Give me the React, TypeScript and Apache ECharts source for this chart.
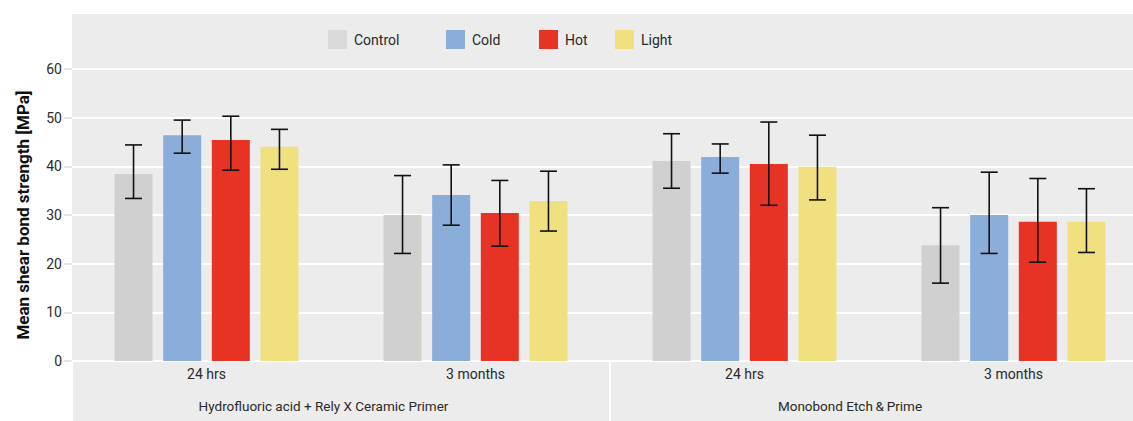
import React, { useEffect, useRef } from "react";
import * as echarts from "echarts";

const categories = ["24 hrs", "3 months", "24 hrs", "3 months"];
const groupLabels = ["Hydrofluoric acid + Rely X Ceramic Primer", "Monobond Etch\u2009&\u2009Prime"];
const seriesNames = ["Control", "Cold", "Hot", "Light"];
const seriesColors = ["#d0d0d0", "#8badda", "#e73324", "#f0e07f"];
const legendColors = ["#dadada", "#8badda", "#e73324", "#f0e07f"];

const controlMean = [38.4, 30.0, 41.1, 23.8];
const coldMean = [46.4, 34.1, 41.9, 30.0];
const hotMean = [45.4, 30.4, 40.5, 28.6];
const lightMean = [44.0, 32.9, 39.9, 28.6];

const controlLow = [33.4, 22.1, 35.5, 16.0];
const controlHigh = [44.4, 38.1, 46.7, 31.5];
const coldLow = [42.7, 27.9, 38.6, 22.1];
const coldHigh = [49.5, 40.3, 44.6, 38.8];
const hotLow = [39.2, 23.6, 32.0, 20.3];
const hotHigh = [50.3, 37.1, 49.1, 37.5];
const lightLow = [39.4, 26.7, 33.1, 22.3];
const lightHigh = [47.6, 39.0, 46.4, 35.4];

const yTicks = [0, 10, 20, 30, 40, 50, 60];

const FONT = "Roboto, sans-serif";
const BAR_WIDTH = 38;
const BAR_GAP = 0.28;

export default function App() {
  const ref = useRef<HTMLDivElement>(null);
  useEffect(() => {
    document.body.style.margin = "0";
    if (!ref.current) return;
    const chart = echarts.init(ref.current, undefined, { renderer: "svg" });
    const means = [controlMean, coldMean, hotMean, lightMean];
    const lows = [controlLow, coldLow, hotLow, lightLow];
    const highs = [controlHigh, coldHigh, hotHigh, lightHigh];
    const errData: number[][] = [];
    seriesNames.forEach((_, s) => {
      categories.forEach((_c, i) => {
        errData.push([i, s, lows[s][i], highs[s][i]]);
      });
    });
    const legendLefts = [328, 446, 539, 615];
    const option: any = {
      animation: false,
      textStyle: { fontFamily: FONT },
      graphic: [
        {
          type: "rect",
          z: -10,
          shape: { x: 72, y: 14, width: 1061, height: 407 },
          style: { fill: "#ececec" },
          silent: true,
        },
        ...groupLabels.map((t, i) => ({
          type: "text",
          x: i === 0 ? 323.5 : 850,
          y: 406,
          style: {
            text: t,
            fontSize: 13.5,
            fontFamily: FONT,
            fill: "#2a2a2a",
            align: "center",
            verticalAlign: "middle",
          },
        })),
      ],
      legend: seriesNames.map((n, i) => ({
        data: [{ name: n, itemStyle: { color: legendColors[i] } }],
        left: legendLefts[i],
        top: 30,
        icon: "rect",
        itemWidth: 19,
        itemHeight: 19,
        itemGap: 0,
        padding: 0,
        textStyle: { fontSize: 14, color: "#2a2a2a", fontFamily: FONT, padding: [0, 0, 0, 2] },
        selectedMode: false,
      })),
      grid: { left: 72, width: 1076, top: 69, height: 292, containLabel: false, outerBoundsMode: "none" },
      xAxis: [
        {
          type: "category",
          data: categories,
          axisLine: { show: false },
          axisTick: { show: false },
          axisLabel: { margin: 6, fontSize: 14, color: "#2a2a2a", fontFamily: FONT },
          splitLine: { show: false },
        },
        {
          type: "category",
          data: groupLabels,
          position: "bottom",
          axisLine: { show: false },
          axisTick: { show: true, length: 60, lineStyle: { color: "#ffffff", width: 2 } },
          axisLabel: { show: false },
          splitLine: { show: false },
        },
      ],
      yAxis: {
        type: "value",
        min: yTicks[0],
        max: yTicks[yTicks.length - 1],
        interval: 10,
        name: "Mean shear bond strength [MPa]",
        nameLocation: "middle",
        nameGap: 41,
        nameTextStyle: { fontSize: 17, fontWeight: "bold", color: "#111", fontFamily: FONT },
        axisLine: { show: false },
        axisTick: { show: true, length: 8, lineStyle: { color: "#e4e4e4", width: 2 } },
        axisLabel: { margin: 10, fontSize: 14, color: "#2a2a2a", fontFamily: FONT },
        splitLine: { show: true, lineStyle: { color: "#ffffff", width: 2 } },
      },
      series: [
        ...seriesNames.map((n, s) => ({
          name: n,
          type: "bar",
          data: means[s],
          barWidth: BAR_WIDTH,
          barGap: `${BAR_GAP * 100}%`,
          itemStyle: { color: seriesColors[s] },
          z: 2,
        })),
        {
          type: "custom",
          name: "err",
          data: errData,
          z: 5,
          renderItem: (params: any, api: any) => {
            const cat = api.value(0);
            const s = api.value(1);
            const lo = api.coord([cat, api.value(2)]);
            const hi = api.coord([cat, api.value(3)]);
            const step = BAR_WIDTH * (1 + BAR_GAP);
            const x = lo[0] + (s - 1.5) * step;
            const cap = 8.5;
            const style = { stroke: "#111", lineWidth: 1.6, fill: "none" };
            return {
              type: "group",
              children: [
                { type: "line", shape: { x1: x, y1: hi[1], x2: x, y2: lo[1] }, style },
                { type: "line", shape: { x1: x - cap, y1: hi[1], x2: x + cap, y2: hi[1] }, style },
                { type: "line", shape: { x1: x - cap, y1: lo[1], x2: x + cap, y2: lo[1] }, style },
              ],
            };
          },
        },
      ],
    };
    chart.setOption(option);
    return () => chart.dispose();
  }, []);
  return <div ref={ref} style={{ width: 1133, height: 421 }} />;
}
